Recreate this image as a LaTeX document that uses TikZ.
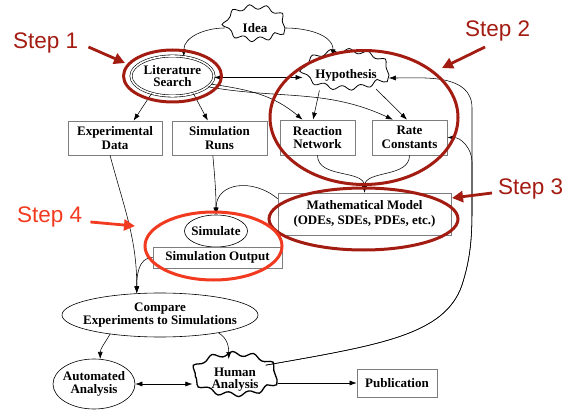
\documentclass[tikz,border=0pt]{standalone}
\usepackage{fontspec}
\setmainfont{Liberation Serif}
\newfontfamily\stepfont{Liberation Sans}
\usetikzlibrary{arrows.meta,shapes.geometric,decorations.pathmorphing}
\definecolor{stepdark}{RGB}{163,28,18}
\definecolor{stepbright}{RGB}{242,58,32}
\definecolor{boxline}{RGB}{125,125,125}
\begin{document}
\begin{tikzpicture}[x=1pt,y=-1pt,
  lbl/.style={font=\bfseries\fontsize{13}{13.5}\selectfont,align=center,inner sep=0pt},
  box/.style={lbl,draw=boxline,line width=0.7pt,rectangle},
  oval/.style={lbl,draw,ellipse,line width=0.6pt,inner xsep=-20pt,inner ysep=-6pt},
  % wavy outline: an ellipse traced with a snake
  wavy/.style={lbl,draw,ellipse,line width=0.8pt,inner xsep=-20pt,inner ysep=-6pt,
    decorate,decoration={snake,amplitude=2.3pt,segment length=#1}},
  link/.style={line width=0.55pt,-{Latex[length=7pt,width=5pt]}},
  twoway/.style={line width=0.55pt,{Latex[length=7pt,width=5pt]}-{Latex[length=7pt,width=5pt]}},
  ring/.style={draw=#1,line width=3pt,ellipse,inner sep=0pt},
  steplabel/.style={font=\stepfont\fontsize{22.5}{24}\selectfont,text=#1,inner sep=0pt,anchor=base west},
  pointer/.style={draw=#1,line width=2.8pt,-{Triangle[length=11pt,width=11pt]}}
]
\useasboundingbox (0,0) rectangle (577,411);

% workflow nodes
\node[wavy=16.6pt,minimum width=60pt,minimum height=33pt] (idea) at (255,28) {Idea};
\node[oval,double,double distance=1.6pt,minimum width=83pt,minimum height=40pt,font=\bfseries\fontsize{13}{12}\selectfont] (lit) at (172.5,76) {Literature\\Search};
\node[wavy=18.4pt,minimum width=86pt,minimum height=38pt] (hyp) at (346,75) {Hypothesis};
\node[box,minimum width=94pt,minimum height=34pt] (exp) at (115,138) {Experimental\\Data};
\node[box,minimum width=95pt,minimum height=34pt] (runs) at (219.5,138) {Simulation\\Runs};
\node[box,minimum width=75pt,minimum height=35pt] (react) at (317.5,137.5) {Reaction\\Network};
\node[box,minimum width=75pt,minimum height=35pt] (rate) at (409.5,137.5) {Rate\\Constants};
\node[box,minimum width=173pt,minimum height=42pt,font=\bfseries\fontsize{13}{15}\selectfont] (math) at (364.5,214) {Mathematical Model\\(ODEs, SDEs, PDEs, etc.)};
\node[oval,minimum width=63pt,minimum height=32pt] (sim) at (216,231) {Simulate};
\node[box,minimum width=129pt,minimum height=21pt] (simout) at (217.5,257.5) {Simulation Output};
\node[oval,minimum width=196pt,minimum height=44pt,font=\bfseries\fontsize{13}{11.5}\selectfont] (cmp) at (160,315) {Compare\\Experiments to Simulations};
\node[oval,minimum width=82pt,minimum height=50pt,font=\bfseries\fontsize{13}{12.5}\selectfont] (auto) at (94,384) {Automated\\Analysis};
\node[wavy=20.4pt,line width=1.3pt,minimum width=84pt,minimum height=40pt,font=\bfseries\fontsize{13}{11.5}\selectfont] (human) at (235,379.5) {Human\\Analysis};
\node[box,minimum width=80pt,minimum height=28pt] (pub) at (397,383) {Publication};

% connectors
\draw[link] (idea.west) to[out=180,in=90] (lit.60);
\draw[link] (idea.east) to[out=0,in=90] (hyp.125);
\draw[twoway] (lit.-2) -- (hyp.west |- lit.-2);
\draw[link] (lit.-12) to[out=-8,in=140] (react.130);
\draw[link] (lit.-17) to[out=-10,in=155] (rate.133);
\draw[link] (hyp.-150) -- (react.104);
\draw[link] (hyp.-25) -- (rate.98);
\draw[link] (lit.-140) -- (exp.43);
\draw[link] (lit.-40) -- (runs.124);
\draw[link] (react.south) to[out=-90,in=90] (math.north);
\draw[link] (rate.south) to[out=-90,in=90] (math.north);
\draw[link] (runs.-111) to[out=-85,in=90] (sim.north);
\draw[link] (math.170) to[out=140,in=90,looseness=1.3] (sim.north);
\draw[link] (exp.-106) to[out=-75,in=90] (cmp.137);
\draw[link] (simout.west) to[out=180,in=90] (cmp.137);
\draw[link] (cmp.-159) to[out=-120,in=90] (auto.76);
\draw[link] (cmp.-17) to[out=-30,in=90] (human.107);
\draw[twoway] (auto.east) -- (auto.east -| human.west);
\draw[link] (human.east |- pub.west) -- (pub.west);

% feedback from human analysis up the right-hand side
\coordinate (bend) at (462,285);
\coordinate (raillow) at (472,210);
\coordinate (railmid) at (472,162);
\coordinate (railtop) at (472,108);
\draw[link] (human.25) .. controls (380,345) and (445,335) .. (bend)
  .. controls (470,260) and (472,240) .. (raillow) -- (railtop) to[out=90,in=0] (hyp.-4);
\draw[link] (human.25) .. controls (380,345) and (445,335) .. (bend)
  .. controls (470,260) and (472,240) .. (raillow) -- (railmid) to[out=90,in=0] (rate.east);

% step highlights
\node[ring=stepdark,minimum width=98pt,minimum height=52pt] (ring1) at (172.5,76) {};
\node[ring=stepdark,minimum width=188pt,minimum height=134pt] (ring2) at (364,117.5) {};
\node[ring=stepdark,minimum width=189pt,minimum height=62pt] (ring3) at (363.5,219) {};
\node[ring=stepbright,minimum width=137pt,minimum height=68pt] (ring4) at (213.5,246) {};

\node[steplabel=stepdark] (step1) at (13,49) {Step 1};
\node[steplabel=stepdark] (step2) at (465,37) {Step 2};
\node[steplabel=stepdark] (step3) at (498,195) {Step 3};
\node[steplabel=stepbright] (step4) at (17,223) {Step 4};

\coordinate (tip1) at (125,63);
\coordinate (tip2) at (442,68);
\coordinate (tip3) at (452,198);
\coordinate (tip4) at (135,226);
\draw[pointer=stepdark] ([xshift=10pt,yshift=2pt]step1.base east) -- (tip1);
\draw[pointer=stepdark] ([xshift=20pt,yshift=-10pt]step2.base west) -- (tip2);
\draw[pointer=stepdark] ([xshift=-6pt,yshift=2pt]step3.base west) -- (tip3);
\draw[pointer=stepbright] ([xshift=8pt,yshift=1pt]step4.base east) -- (tip4);
\end{tikzpicture}
\end{document}
